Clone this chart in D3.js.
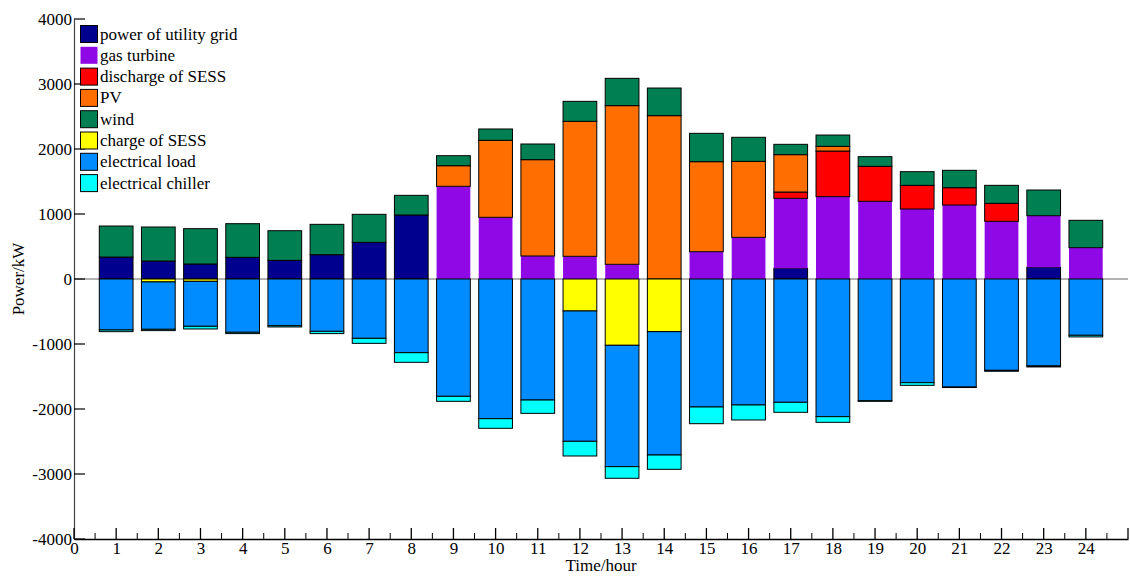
<!DOCTYPE html>
<html><head><meta charset="utf-8">
<script src="https://cdn.jsdelivr.net/npm/d3@7"></script>
<style>body{margin:0;background:#fff;} svg{display:block;} text{font-family:"Liberation Serif","Times New Roman",serif;}</style>
</head><body><svg id="c" width="1130" height="576"></svg>
<script>
const hours = d3.range(1, 25);
const grid      = [338,277,231,333,287,374,564,985,0,0,0,0,0,0,0,0,164,0,0,0,0,0,180,0];
const gasTurb   = [0,0,0,0,0,0,0,0,1426,949,354,349,226,0,420,641,1077,1267,1195,1077,1138,887,794,482];
const discharge = [0,0,0,0,0,0,0,0,0,0,0,0,0,0,0,0,97,702,538,364,267,277,0,0];
const pv        = [0,0,0,0,0,0,0,0,317,1185,1482,2077,2441,2513,1385,1169,575,72,0,0,0,0,0,0];
const wind      = [477,523,543,518,456,467,431,302,154,174,241,307,420,425,436,370,159,174,149,210,267,277,395,421];
const charge    = [0,45,36,0,0,0,0,0,0,0,0,492,1020,810,0,0,0,0,0,0,0,0,0,0];
const load      = [785,729,692,820,718,805,913,1134,1805,2149,1862,2005,1867,1898,1969,1938,1897,2118,1872,1595,1662,1405,1338,866];
const chiller   = [25,20,41,20,20,35,77,148,77,148,205,226,179,220,257,231,154,87,10,41,8,15,15,25];
const xTicks = d3.range(0, 25);
const yTicks = [-4000,-3000,-2000,-1000,0,1000,2000,3000,4000];

const posSeries = [
  {name:"power of utility grid", data:grid, color:"#00008f", stroke:true},
  {name:"gas turbine", data:gasTurb, color:"#8f08e6", stroke:false},
  {name:"discharge of SESS", data:discharge, color:"#ff0000", stroke:true},
  {name:"PV", data:pv, color:"#ff6e00", stroke:true},
  {name:"wind", data:wind, color:"#008052", stroke:true}
];
const negSeries = [
  {name:"charge of SESS", data:charge, color:"#ffff00", stroke:true},
  {name:"electrical load", data:load, color:"#008cff", stroke:true},
  {name:"electrical chiller", data:chiller, color:"#00ffff", stroke:true}
];

const svg = d3.select("#c");
const x = d3.scaleLinear().domain([0, 25]).range([74, 1128]);
const y = d3.scaleLinear().domain([-4000, 4000]).range([539, 19]);
const bw = (x(1) - x(0)) * 0.8;
const fmt = d => String(d);

// zero line
svg.append("line").attr("x1", x(0)).attr("x2", x(25)).attr("y1", y(0)).attr("y2", y(0))
  .attr("stroke", "#666").attr("stroke-width", 1.2);

const gBars = svg.append("g");
function drawStack(series, sign) {
  const base = hours.map(() => 0);
  series.forEach(s => {
    hours.forEach((h, i) => {
      const v = s.data[i];
      if (v <= 0) return;
      const a = base[i], b = base[i] + v;
      base[i] = b;
      const y0 = y(sign * a), y1 = y(sign * b);
      gBars.append("rect")
        .attr("x", x(h) - bw / 2).attr("width", bw)
        .attr("y", Math.min(y0, y1)).attr("height", Math.abs(y1 - y0))
        .attr("fill", s.color)
        .attr("stroke", s.stroke ? "#000" : "none").attr("stroke-width", 1);
    });
  });
}
drawStack(posSeries, 1);
drawStack(negSeries, -1);

// y axis
const yAxis = svg.append("g").attr("transform", `translate(${x(0)},0)`)
  .call(d3.axisLeft(y).tickValues(yTicks).tickSize(0).tickPadding(2).tickFormat(fmt));
yAxis.select(".domain").attr("stroke", "#444").attr("stroke-width", 1.2);
yAxis.selectAll("text").attr("font-size", 17).attr("fill", "#000").attr("font-family", "Liberation Serif");
yTicks.forEach(t => {
  svg.append("line").attr("x1", x(0)).attr("x2", x(0) + 11).attr("y1", y(t)).attr("y2", y(t))
    .attr("stroke", "#000").attr("stroke-width", 1.2);
});

// x axis
const xAxis = svg.append("g").attr("transform", `translate(0,${y(-4000)})`)
  .call(d3.axisBottom(x).tickValues(xTicks).tickSize(0).tickPadding(3).tickFormat(fmt));
xAxis.select(".domain").attr("stroke", "#000").attr("stroke-width", 1.5);
xAxis.selectAll("text").attr("font-size", 17).attr("fill", "#000").attr("font-family", "Liberation Serif");
d3.range(0, 25.5, 0.5).forEach(t => {
  const major = Number.isInteger(t);
  svg.append("line").attr("x1", x(t)).attr("x2", x(t))
    .attr("y1", y(-4000)).attr("y2", y(-4000) - (major ? 11 : 6))
    .attr("stroke", "#000").attr("stroke-width", major ? 1.3 : 1);
});

// axis labels
svg.append("text").attr("x", 601).attr("y", 571).attr("text-anchor", "middle")
  .attr("font-size", 17).text("Time/hour");
svg.append("text").attr("transform", `translate(24,${y(0)}) rotate(-90)`).attr("text-anchor", "middle")
  .attr("font-size", 17).text("Power/kW");

// legend
const legendItems = posSeries.concat(negSeries);
const lg = svg.append("g");
legendItems.forEach((s, i) => {
  const cy = 34 + i * 21.3;
  lg.append("rect").attr("x", 80.5).attr("y", cy - 8.5).attr("width", 17).attr("height", 17)
    .attr("fill", s.color).attr("stroke", s.stroke ? "#000" : "none").attr("stroke-width", 1);
  lg.append("text").attr("x", 100).attr("y", cy + 5.5).attr("font-size", 17).text(s.name);
});
</script></body></html>
